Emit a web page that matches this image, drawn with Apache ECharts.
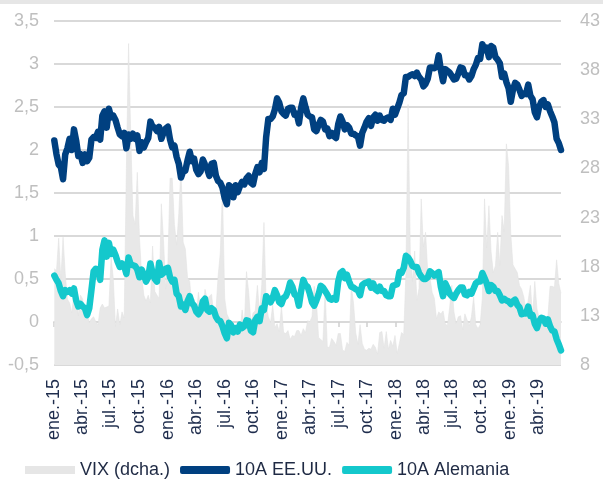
<!DOCTYPE html>
<html>
<head>
<meta charset="utf-8">
<script src="https://cdn.jsdelivr.net/npm/echarts@6/dist/echarts.min.js"></script>
<style>
html,body{margin:0;padding:0;background:#fff;}
#chart{width:603px;height:484px;}
</style>
</head>
<body>
<div id="chart"></div>
<script>
var us2015 = [2.11,1.95,1.83,1.80,1.66, 1.95,2.02,2.13,2.00, 2.24,2.11,1.93,1.95, 1.85,1.95,1.87,1.91, 2.12,2.15,2.14,2.21,2.12, 2.40,2.45,2.26,2.48, 2.38,2.40,2.35,2.26,2.18, 2.16,2.20,2.02,2.18, 2.13,2.19,2.13,2.17, 1.99,2.09,2.03,2.09,2.14, 2.33,2.27,2.26,2.22, 2.27,2.13,2.20,2.25];
var us2016 = [2.27,2.12,2.03,2.05,1.92, 1.84,1.68,1.75,1.76, 1.88,1.98,1.87,1.90, 1.77,1.72,1.75,1.89,1.83, 1.78,1.70,1.84,1.85, 1.70,1.64,1.62,1.56, 1.44,1.37,1.59,1.57,1.45, 1.59,1.51,1.58,1.63, 1.60,1.67,1.70,1.62,1.60, 1.72,1.80,1.74,1.85, 1.78,2.15,2.36,2.36, 2.39,2.47,2.60,2.55,2.45];
var us2017 = [2.42,2.40,2.48,2.49, 2.49,2.41,2.42,2.31, 2.49,2.60,2.50,2.41,2.39, 2.38,2.24,2.22,2.29, 2.35,2.33,2.24,2.25, 2.16,2.20,2.16,2.14,2.30, 2.39,2.33,2.24,2.29, 2.26,2.19,2.19,2.17, 2.16,2.05,2.20,2.26,2.33, 2.37,2.28,2.38,2.41, 2.34,2.40,2.35,2.34, 2.37,2.38,2.35,2.48,2.41];
var us2018 = [2.48,2.55,2.64,2.66, 2.85,2.85,2.87,2.88, 2.86,2.90,2.85,2.82,2.74, 2.77,2.83,2.96,2.96, 2.95,2.97,3.10,2.93, 2.80,2.94,2.92,2.90,2.86, 2.82,2.83,2.89,2.96, 2.95,2.87,2.87,2.82,2.86, 2.94,2.99,3.07,3.06, 3.23,3.16,3.19,3.08, 3.21,3.19,3.08,3.05,3.01, 2.85,2.89,2.79,2.72];
var us2019 = [2.56,2.70,2.78,2.76, 2.70,2.63,2.66,2.65, 2.76,2.63,2.59,2.44,2.38, 2.50,2.56,2.58,2.50, 2.53,2.45,2.39,2.32,2.13, 2.08,2.00];

var de2015 = [0.54,0.49,0.45,0.36,0.30, 0.37,0.35,0.37,0.33, 0.39,0.25,0.18,0.21, 0.18,0.16,0.08,0.16, 0.37,0.59,0.62,0.61,0.49, 0.84,0.95,0.76,0.92, 0.79,0.84,0.78,0.70,0.64, 0.68,0.65,0.56,0.75, 0.67,0.66,0.65,0.61, 0.52,0.61,0.55,0.47,0.52, 0.68,0.57,0.50,0.47, 0.69,0.55,0.57,0.62];
var de2016 = [0.63,0.52,0.47,0.49,0.33, 0.30,0.18,0.20,0.14, 0.24,0.30,0.22,0.19, 0.12,0.09,0.13,0.24,0.27, 0.14,0.12,0.16,0.14, 0.06,0.02,0.01,-0.05, -0.13,-0.19,-0.01,-0.04,-0.12, -0.07,-0.11,-0.03,-0.07, -0.05,0.02,0.01,-0.10,-0.12, 0.02,0.06,0.01,0.16, 0.14,0.30,0.27,0.23, 0.28,0.37,0.31,0.23,0.21];
var de2017 = [0.28,0.30,0.36,0.46, 0.41,0.32,0.30,0.19, 0.36,0.49,0.43,0.41,0.33, 0.23,0.19,0.25,0.32, 0.42,0.40,0.36,0.32, 0.27,0.26,0.28,0.26,0.47, 0.57,0.59,0.51,0.55, 0.47,0.41,0.40,0.38, 0.37,0.31,0.43,0.45,0.46, 0.47,0.40,0.45,0.38, 0.36,0.41,0.36,0.36, 0.31,0.30,0.30,0.42,0.43];
var de2018 = [0.44,0.58,0.57,0.63, 0.77,0.75,0.71,0.65, 0.64,0.64,0.57,0.53,0.50, 0.50,0.52,0.59,0.57, 0.54,0.56,0.58,0.41, 0.30,0.45,0.40,0.33,0.30, 0.28,0.33,0.37,0.40, 0.40,0.32,0.31,0.35,0.33, 0.39,0.45,0.47,0.47, 0.57,0.51,0.45,0.36, 0.43,0.41,0.36,0.36,0.31, 0.25,0.27,0.25,0.24];
var de2019 = [0.21,0.24,0.26,0.20, 0.17,0.09,0.10,0.10, 0.18,0.07,0.08,-0.02,-0.07, 0.01,0.05,0.04,-0.02, 0.03,-0.05,-0.10,-0.11,-0.20, -0.26,-0.33];

var vix2015 = [17.8,17.6,20.9,16.7,21.0, 17.3,14.7,14.3,13.3, 15.2,16.0,13.0,15.1, 14.7,12.6,13.9,12.3, 12.7,12.9,12.4,12.1,13.8, 14.2,13.8,13.9,14.0, 18.9,16.8,11.9,13.7,12.1, 13.4,12.8,28.0,40.7, 31.4,23.2,22.3,27.6, 20.9,17.1,15.1,14.5,15.1, 14.3,20.1,15.5,15.1, 14.8,24.4,20.7,15.7];
var vix2016 = [18.2,27.0,27.0,22.3,20.2, 23.4,28.1,20.5,19.8, 16.9,16.5,14.0,14.7, 13.1,15.4,13.6,13.2,15.7, 14.7,15.0,15.2,13.1, 13.5,17.0,19.4,25.8, 14.8,13.2,12.7,12.0,12.0, 11.4,11.6,11.3,13.6, 11.9,17.5,15.4,12.3,13.3, 13.5,16.1,13.3,16.2, 22.5,14.2,12.9,12.3, 14.1,11.8,12.2,11.4,14.0];
var vix2017 = [11.3,11.2,11.5,10.6, 11.0,10.9,11.5,11.5, 11.0,11.7,11.3,12.5,12.4, 12.9,16.0,14.6,10.8, 10.6,10.4,15.6,9.8, 9.8,10.7,10.4,10.0,11.2, 11.2,9.5,9.4,10.3, 10.0,16.0,14.3,11.3, 10.1,12.1,10.2,9.6,9.5, 9.7,9.6,10.1,9.8, 9.1,11.3,11.4,9.7, 11.4,9.6,10.5,9.9,11.0];
var vix2018 = [9.2,10.2,11.3,11.1, 17.3,34.5,19.5,16.5, 19.6,14.6,15.8,24.9,20.0, 21.5,17.4,16.9,15.4, 14.8,12.7,13.4,13.2, 13.5,12.2,12.0,13.8,16.1, 13.4,12.2,12.9,13.0, 11.6,13.2,12.6,12.0,12.9, 14.9,12.1,11.7,12.1, 14.8,24.9,19.9,24.2, 19.5,17.4,18.1,21.5,18.1, 23.2,21.6,30.5,28.3];
var vix2019 = [21.4,18.2,17.8,17.4, 16.1,15.7,14.9,13.5, 14.6,16.1,12.9,16.5,13.7, 12.8,12.0,12.1,12.7, 12.9,16.0,16.0,15.9,18.7, 16.3,15.3];

var tickLabels = ['ene.-15','abr.-15','jul.-15','oct.-15','ene.-16','abr.-16','jul.-16','oct.-16','ene.-17','abr.-17','jul.-17','oct.-17','ene.-18','abr.-18','jul.-18','oct.-18','ene.-19','abr.-19'];
var leftTicks = [-0.5, 3.5, 0.5];
var rightTicks = [8, 43, 5];

var usAll = [].concat(us2015, us2016, us2017, us2018, us2019);
var deAll = [].concat(de2015, de2016, de2017, de2018, de2019);
var vixAll = [].concat(vix2015, vix2016, vix2017, vix2018, vix2019);

function weekDate(i) { return new Date(2015, 0, 2 + 7 * i).getTime(); }
function pairs(arr) { return arr.map(function (v, i) { return [weekDate(i), v]; }); }

var tickTimes = tickLabels.map(function (l, k) {
  return new Date(2015 + Math.floor(k / 4), (k % 4) * 3, 1).getTime();
});
var xMin = new Date(2015, 0, 1).getTime();
var xMax = new Date(2019, 5, 14).getTime();

var FONT = '"Liberation Sans", Arial, sans-serif';
var chart = echarts.init(document.getElementById('chart'), null, { renderer: 'canvas' });
chart.setOption({
  backgroundColor: '#ffffff',
  animation: false,
  graphic: [{ type: 'rect', left: 0, top: 0, shape: { width: 603, height: 4 }, style: { fill: '#e6e6e6' }, z: 10 }],
  grid: { left: 54, right: 40, top: 21, bottom: 119 },
  legend: {
    left: 20, top: 456, itemWidth: 50, itemHeight: 8, itemGap: 10,
    textStyle: { fontFamily: FONT, fontSize: 18, color: '#1f2a44' },
    data: [
      { name: 'VIX (dcha.)', icon: 'rect' },
      { name: '10A EE.UU.', icon: 'roundRect' },
      { name: '10A Alemania', icon: 'roundRect' }
    ]
  },
  xAxis: [
    {
      type: 'value', position: 'bottom', min: xMin, max: xMax,
      axisLine: { show: false, onZero: false },
      axisTick: { show: false },
      axisLabel: {
        customValues: tickTimes, rotate: 90, margin: 14,
        fontFamily: FONT, fontSize: 18, color: '#1f2d4d',
        formatter: function (val) {
          for (var j = 0; j < tickTimes.length; j++) { if (Math.abs(tickTimes[j] - val) < 86400000) { return tickLabels[j]; } }
          return '';
        }
      },
      splitLine: { show: false }
    },
    {
      type: 'value', position: 'bottom', min: xMin, max: xMax,
      axisLine: { show: true, onZero: true, onZeroAxisIndex: 0, lineStyle: { color: '#d9d9d9', width: 1.8 } },
      axisTick: { show: true, length: 5, customValues: tickTimes, lineStyle: { color: '#d0d0d0', width: 1.5 } },
      axisLabel: { show: false },
      splitLine: { show: false }
    }
  ],
  yAxis: [
    {
      type: 'value', min: leftTicks[0], max: leftTicks[1], interval: leftTicks[2],
      axisLine: { show: false }, axisTick: { show: false },
      axisLabel: { margin: 15, fontFamily: FONT, fontSize: 18, color: '#bfbfbf',
        formatter: function (v) { return String(v).replace('.', ','); } },
      splitLine: { show: true, lineStyle: { color: '#d9d9d9', width: 1.8 } }
    },
    {
      type: 'value', min: rightTicks[0], max: rightTicks[1], interval: rightTicks[2],
      axisLine: { show: false }, axisTick: { show: false },
      axisLabel: { margin: 19, fontFamily: FONT, fontSize: 18, color: '#bfbfbf' },
      splitLine: { show: false }
    }
  ],
  series: [
    {
      name: 'VIX (dcha.)', type: 'line', xAxisIndex: 0, yAxisIndex: 1, data: pairs(vixAll),
      showSymbol: false, symbol: 'none',
      lineStyle: { width: 0.6, color: '#e3e3e3' },
      itemStyle: { color: '#e6e6e6' },
      areaStyle: { color: '#e8e8e8', opacity: 1, origin: 'start' },
      z: 1
    },
    {
      name: '10A EE.UU.', type: 'line', xAxisIndex: 0, yAxisIndex: 0, data: pairs(usAll),
      showSymbol: false, symbol: 'none',
      lineStyle: { width: 6.5, color: '#004080', cap: 'round', join: 'round' },
      itemStyle: { color: '#004080' },
      z: 3
    },
    {
      name: '10A Alemania', type: 'line', xAxisIndex: 0, yAxisIndex: 0, data: pairs(deAll),
      showSymbol: false, symbol: 'none',
      lineStyle: { width: 6.5, color: '#14c8cc', cap: 'round', join: 'round' },
      itemStyle: { color: '#14c8cc' },
      z: 3
    }
  ]
});
</script>
</body>
</html>
